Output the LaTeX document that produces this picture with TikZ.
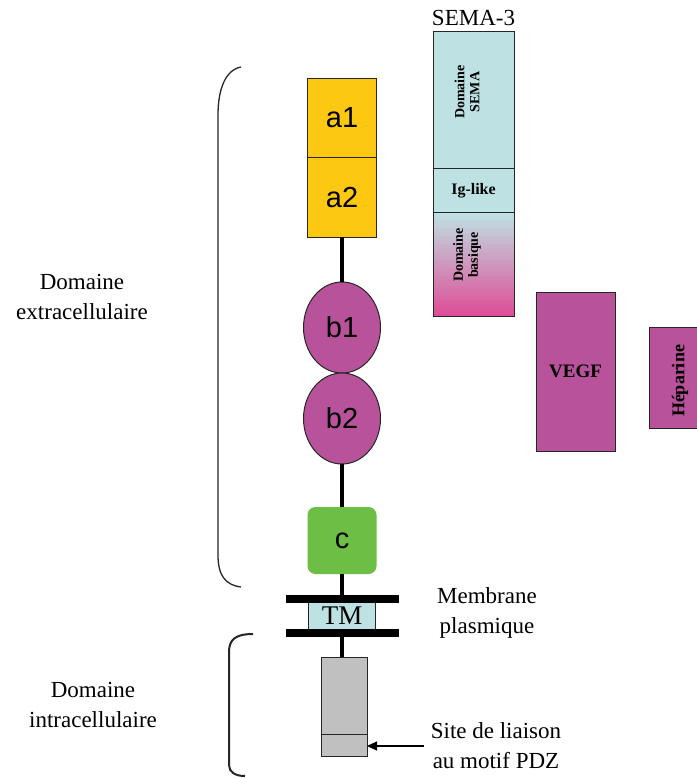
\documentclass[tikz,border=0pt]{standalone}
\usepackage{fontspec}
\setmainfont{Liberation Serif}
\setsansfont{Liberation Sans}
\usepackage{tikz}
\usetikzlibrary{positioning,arrows.meta,shapes.geometric}

\definecolor{npgold}{HTML}{FCC812}
\definecolor{nppurple}{HTML}{B8529A}
\definecolor{npgreen}{HTML}{6CBE45}
\definecolor{npcyan}{HTML}{BEE2E4}
\definecolor{npgray}{HTML}{C0C0C0}
\definecolor{nppink}{HTML}{DE4C96}
\definecolor{nplilac}{HTML}{D9BCDC}

\begin{document}
\begin{tikzpicture}[x=1pt, y=-1pt,
                every node/.append style = {inner sep=0pt, outer sep=0pt},
                dombox/.style = {draw=black!85, line width=1pt, minimum width=69pt, minimum height=79.5pt,
                    font=\fontsize{29}{29}\sffamily},
                domoval/.style = {ellipse, draw=black!85, line width=1pt, fill=nppurple,
                    minimum width=77pt, minimum height=91pt, font=\fontsize{29}{29}\sffamily},
                ligand/.style = {draw=black!85, line width=1pt, font=\fontsize{14}{15}\bfseries, align=center},
                ligtext/.style = {font=\fontsize{14}{15}\bfseries, align=center, rotate=90},
                txt/.style = {font=\fontsize{23}{30}\selectfont, align=center},
                link/.style = {line width=4pt},
                membrane/.style = {line width=8pt},
                bracket/.style = {line width=1.3pt, black!85}]
            \useasboundingbox[fill=white] (0,0) rectangle (696,778);
            % recepteur
            \node[dombox, fill=npgold] (a1) at (342,118) {a1};
            \node[dombox, fill=npgold, below=0pt of a1] (a2) {a2};
            \node[domoval] (b1) at (342,327.5) {b1};
            \node[domoval, below=0pt of b1] (b2) {b2};
            \node[fill=npgreen, rounded corners=8pt, minimum width=69pt, minimum height=67pt,
                font=\fontsize{29}{29}\sffamily] (c) at (342,540.5) {c};
            \node[draw=black!85, line width=1pt, fill=npcyan, minimum width=67pt, minimum height=34pt,
                font=\fontsize{27}{27}\selectfont] (tm) at (342,616) {TM};
            \node[draw=black!85, line width=1pt, fill=npgray, minimum width=46pt, minimum height=99pt] (cyto) at (344,706.5) {};
            \draw[link] (a2.south) -- (b1.north);
            \draw[link] (b2.south) -- (c.north);
            \draw[link] (c.south) -- (tm.north);
            \draw[link] (tm.south) -- (cyto.north -| tm.south);
            \draw[membrane] (286,599) -- (399,599);
            \draw[membrane] (286,633) -- (399,633);
            \coordinate (pdz) at (344,734);
            \draw[line width=1pt, black!85] (cyto.west |- pdz) -- (cyto.east |- pdz);
            \coordinate (pdztail) at (424,746);
            \draw[line width=1.2pt, -{Triangle[length=10pt,width=9pt]}] (pdztail) -- (cyto.east |- pdztail);
            % accolades
            \draw[bracket] (241,67) .. controls (225,70) and (218,90) .. (218,115) -- (218,555)
                .. controls (218,575) and (225,585) .. (241,587);
            \draw[bracket, line width=2pt] (253,634) .. controls (235,634) and (229,640) .. (229,652) -- (229,765)
                .. controls (229,772) and (235,776) .. (245,776);
            \node[txt] (extra) at (82,297) {Domaine\\extracellulaire};
            \node[txt] (intra) at (93,705) {Domaine\\intracellulaire};
            \node[txt] (memb) at (487,613) {Membrane\\plasmique};
            \node[txt] (site) at (496,746) {Site de liaison\\au motif PDZ};
            % ligands
            \node[txt] (semalabel) at (473.5,18) {SEMA-3};
            \node[ligand, fill=npcyan, minimum width=81pt, minimum height=137pt] (sema) at (473.5,100.5) {};
            \node[ligtext] (semat) at (467,92) {Domaine\\SEMA};
            \node[ligand, fill=npcyan, minimum width=81pt, minimum height=43pt, font=\fontsize{16}{16}\bfseries] (ig) at (473.5,190.5) {Ig-like};
            \node[ligand, top color=npcyan, middle color=nplilac, bottom color=nppink,
                minimum width=81pt, minimum height=104pt] (basic) at (473.5,264) {};
            \node[ligtext] (basict) at (467,255) {Domaine\\basique};
            \node[ligand, fill=nppurple, minimum width=79pt, minimum height=159pt, font=\fontsize{19}{19}\bfseries] (vegf) at (575.5,371.5) {VEGF};
            \fill[nppurple] (649,327) rectangle (697,428);
            \draw[line width=1pt, black!85] (697,327) -- (649,327) -- (649,428) -- (697,428);
            \node[font=\fontsize{18}{18}\bfseries, rotate=90] (hep) at (680,381) {Héparine};
            \end{tikzpicture}
\end{document}
